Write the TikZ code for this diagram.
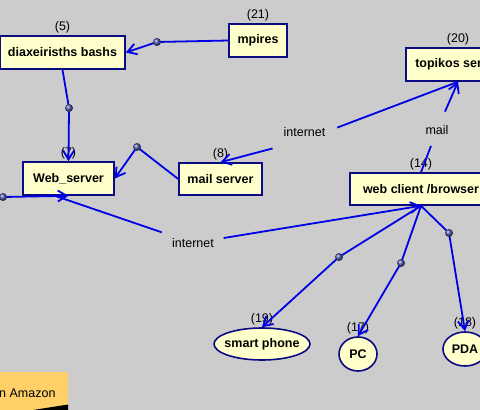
\documentclass[tikz,border=0pt]{standalone}
\usepackage{fontspec}
\setmainfont{Liberation Sans}
\usetikzlibrary{arrows.meta,shapes.geometric}
\definecolor{bg}{RGB}{204,204,204}
\definecolor{edgeblue}{RGB}{0,0,230}
\definecolor{navyb}{RGB}{10,10,130}
\definecolor{nodefill}{RGB}{255,255,204}
\definecolor{amber}{RGB}{255,208,104}
\definecolor{dotcol}{RGB}{70,80,160}
\begin{document}
\begin{tikzpicture}[x=1pt,y=-1pt,
  box/.style={draw=navyb, line width=1.6pt, fill=nodefill, rectangle,
    minimum height=33pt, inner sep=0pt, font=\bfseries\fontsize{12.5}{14}\selectfont},
  oval/.style={draw=navyb, line width=1.6pt, fill=nodefill, ellipse,
    inner sep=0pt, font=\bfseries\fontsize{12.5}{14}\selectfont},
  num/.style={font=\fontsize{12.5}{14}\selectfont, inner sep=0pt},
  elabel/.style={font=\fontsize{12.5}{14}\selectfont, inner sep=0pt},
  edge/.style={draw=edgeblue, line width=1.8pt},
  arr/.style={-{Straight Barb[length=9pt,width=11pt]}},
  balldot/.style={circle, inner sep=0pt, minimum size=8pt, shading=ball, ball color=dotcol}]
\useasboundingbox (0,0) rectangle (480,410);
\clip (0,0) rectangle (480,410);
\fill[bg] (0,0) rectangle (480,410);

% amazon box (cut off)
\fill[amber] (-10,372) rectangle (68,415);
\fill[black] (33,410) -- (68,404.5) -- (68,410) -- cycle;
\node[elabel, anchor=west] (amz) at (-1,393) {n Amazon};

% nodes
\node[box, minimum width=125pt] (diax) at (62.5,52.5) {diaxeirisths bashs};
\node[num] at (diax.north) [above=2pt] (l5) {(5)};
\node[box, minimum width=58pt] (mp) at (258,40.5) {mpires};
\node[num] at (mp.north) [above=2pt] (l21) {(21)};
\node[box, minimum width=104pt] (ts) at (458,64.5) {topikos server};
\node[num] at (ts.north) [above=2pt] (l20) {(20)};
\node[box, minimum width=91pt] (ws) at (68.5,178.5) {Web\_server};
\node[num] at (ws.north) [above=2pt] (l7) {(7)};
\node[box, minimum width=83pt, minimum height=32pt] (ms) at (220.5,179) {mail server};
\node[num] at (ms.north) [above=2pt] (l8) {(8)};
\node[box, minimum width=142pt, minimum height=32pt] (wc) at (421,189) {web client /browser};
\node[num] at (wc.north) [above=2pt] (l14) {(14)};
\node[oval, minimum width=96pt, minimum height=32pt] (sp) at (262,344) {\makebox[0pt]{smart phone}};
\node[num] at (sp.north) [above=2pt] (l19) {(19)};
\node[oval, minimum width=38pt, minimum height=34pt] (pc) at (358,354) {PC};
\node[num] at (pc.north) [above=2pt] (l17) {(17)};
\node[oval, minimum width=44pt, minimum height=34pt] (pda) at (465,349) {PDA};
\node[num] at (pda.north) [above=2pt] (l18) {(18)};

% edge labels
\node[elabel] (inet1) at (193,243) {internet};
\node[elabel] (inet2) at (304.5,132) {internet};
\node[elabel] (mail) at (437,130) {mail};

% bend points
\coordinate (d1) at (157,42);
\coordinate (d2) at (69,108);
\coordinate (d3) at (137,147);
\coordinate (d4) at (3,197);
\coordinate (offl) at (-12,198);
\coordinate (d7) at (339,257);
\coordinate (d8) at (401,263);
\coordinate (d9) at (449,233);
\coordinate (m2) at (304.5,140);
\coordinate (e5s) at ([xshift=-13.5pt]ws.south);

% edges
\draw[edge,arr] (mp.west) -- (d1) -- (diax.east);
\draw[edge,arr] (diax.south) -- (d2) -- (ws.north);
\draw[edge,arr] (ms.west) -- (d3) -- (ws.east);
\draw[edge,arr] (offl) -- (d4) -- (ws.south);
\draw[edge, shorten >=33pt] (e5s) -- (inet1.center);
\draw[edge,arr, shorten <=31pt] (inet1.center) -- (wc.south);
\draw[edge, shorten >=35pt] (ts.south) -- (m2);
\draw[edge,arr, shorten <=33pt] (m2) -- (ms.north);
\draw[edge, shorten >=17pt] (wc.north) -- (mail.center);
\draw[edge,arr, shorten <=20pt] (mail.center) -- (ts.south);
\draw[edge,arr] (wc.south) -- (d7) -- (sp.north);
\draw[edge,arr] (wc.south) -- (d8) -- (pc.north);
\draw[edge,arr] (wc.south) -- (d9) -- (pda.north);

% bend markers
\node[balldot] (b1) at (d1) {};
\node[balldot] (b2) at (d2) {};
\node[balldot] (b3) at (d3) {};
\node[balldot] (b4) at (d4) {};
\node[balldot] (b7) at (d7) {};
\node[balldot] (b8) at (d8) {};
\node[balldot] (b9) at (d9) {};
\end{tikzpicture}
\end{document}
